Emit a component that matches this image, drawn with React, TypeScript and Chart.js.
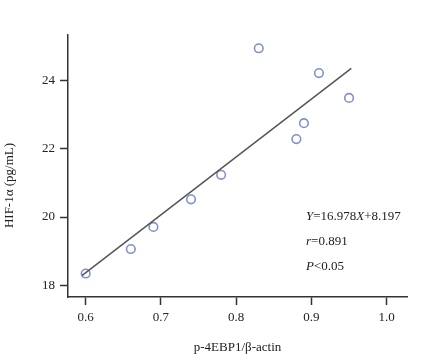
import React, { useEffect, useRef } from "react";
import { Chart, registerables } from "chart.js";

Chart.register(...registerables);

// Observed data points
const xValues = [0.6, 0.66, 0.69, 0.74, 0.78, 0.83, 0.88, 0.89, 0.91, 0.95];
const yValues = [18.34, 19.06, 19.71, 20.52, 21.24, 24.96, 22.29, 22.76, 24.23, 23.5];

// Regression line end points (as drawn)
const fitX = [0.595, 0.953];
const fitY = [18.28, 24.37];

const xTicks = [0.6, 0.7, 0.8, 0.9, 1.0];
const yTicks = [18, 20, 22, 24];

const xTitle = "p-4EBP1/β-actin";
const yTitle = "HIF-1α (pg/mL)";

// annotation lines: [text, italic] segments
const annotation: [string, boolean][][] = [
  [["Y", true], ["=16.978", false], ["X", true], ["+8.197", false]],
  [["r", true], ["=0.891", false]],
  [["P", true], ["<0.05", false]],
];

const FONT = "'Liberation Serif', 'Times New Roman', serif";
const TEXT = "#222";
const AXIS = "#333";

const textPlugin = {
  id: "textPlugin",
  afterDraw(chart: any) {
    const ctx = chart.ctx as CanvasRenderingContext2D;
    const area = chart.chartArea;
    ctx.save();
    ctx.fillStyle = TEXT;
    // annotation
    const startX = 306;
    const baselines = [219.5, 245, 270];
    annotation.forEach((segs, i) => {
      let x = startX;
      segs.forEach(([t, it]) => {
        ctx.font = `${it ? "italic " : ""}13px ${FONT}`;
        ctx.textAlign = "left";
        ctx.textBaseline = "alphabetic";
        ctx.fillText(t, x, baselines[i]);
        x += ctx.measureText(t).width;
      });
    });
    // x title
    ctx.font = `13px ${FONT}`;
    ctx.textAlign = "center";
    ctx.textBaseline = "alphabetic";
    ctx.fillText(xTitle, (area.left + area.right) / 2, 351);
    // y title
    ctx.save();
    ctx.translate(12.5, 185.5);
    ctx.rotate(-Math.PI / 2);
    ctx.fillText(yTitle, 0, 0);
    ctx.restore();
    ctx.restore();
  },
};

export default function App() {
  const ref = useRef<HTMLCanvasElement>(null);
  useEffect(() => {
    if (!ref.current) return;
    const chart = new Chart(ref.current, {
      type: "scatter",
      data: {
        datasets: [
          {
            type: "line",
            data: fitX.map((x, i) => ({ x, y: fitY[i] })),
            borderColor: "#555",
            borderWidth: 1.5,
            pointRadius: 0,
            fill: false,
          } as any,
          {
            data: xValues.map((x, i) => ({ x, y: yValues[i] })),
            borderColor: "#8391c6",
            backgroundColor: "rgba(255,255,255,0)",
            borderWidth: 1.6,
            pointRadius: 4.3,
          },
        ],
      },
      options: {
        responsive: false,
        animation: false,
        layout: { padding: { left: 0, top: 35, right: 30, bottom: 0 } },
        plugins: { legend: { display: false }, tooltip: { enabled: false } },
        scales: {
          x: {
            type: "linear",
            min: 0.5765,
            max: 1.027,
            afterFit: (s: any) => {
              s.height = 65;
            },
            afterBuildTicks: (s: any) => {
              s.ticks = xTicks.map((v) => ({ value: v }));
            },
            grid: {
              drawOnChartArea: false,
              drawTicks: true,
              tickLength: 8,
              tickWidth: 1.5,
              tickColor: AXIS,
            },
            border: { display: true, color: AXIS, width: 1.5 },
            ticks: {
              padding: 5,
              color: TEXT,
              font: { family: FONT, size: 13 },
              maxRotation: 0,
              callback: (v: any) => Number(v).toFixed(1),
            },
          },
          y: {
            type: "linear",
            min: 17.65,
            max: 25.35,
            afterFit: (s: any) => {
              s.width = 68;
            },
            afterBuildTicks: (s: any) => {
              s.ticks = yTicks.map((v) => ({ value: v }));
            },
            grid: {
              drawOnChartArea: false,
              drawTicks: true,
              tickLength: 8,
              tickWidth: 1.5,
              tickColor: AXIS,
            },
            border: { display: true, color: AXIS, width: 1.5 },
            ticks: {
              padding: 5,
              color: TEXT,
              font: { family: FONT, size: 13 },
              callback: (v: any) => String(v),
            },
          },
        },
      },
      plugins: [textPlugin],
    });
    return () => chart.destroy();
  }, []);
  return (
    <div style={{ position: "absolute", left: 0, top: 0, width: 437, height: 362, background: "#fff" }}>
      <canvas ref={ref} width={437} height={362} />
    </div>
  );
}
